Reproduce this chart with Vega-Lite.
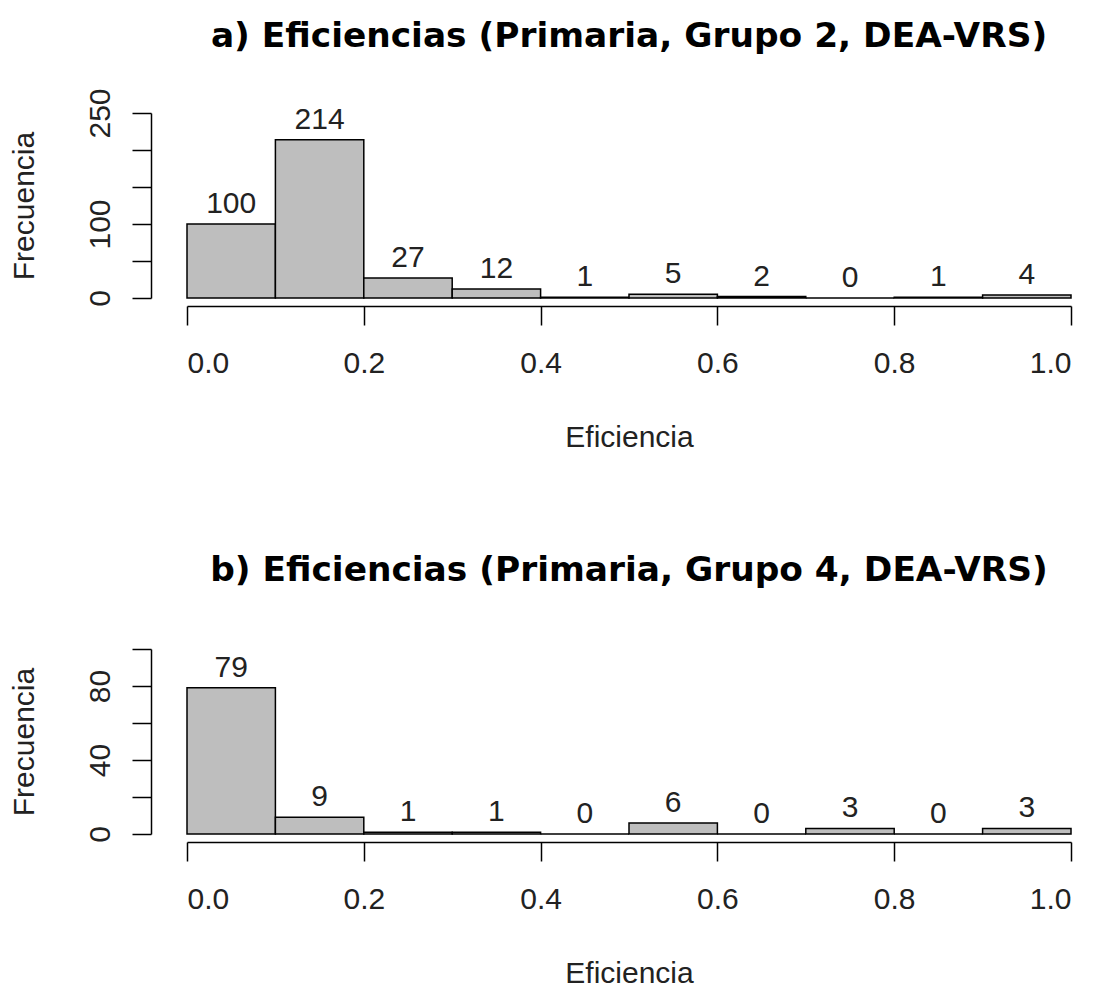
{
  "$schema": "https://vega.github.io/schema/vega-lite/v6.json",
  "background": "white",
  "padding": {"left": 9, "top": 18, "right": 20, "bottom": 0},
  "config": {
    "font": "Liberation Sans",
    "view": {"stroke": null},
    "axis": {
      "grid": false,
      "domainColor": "black",
      "tickColor": "black",
      "domainWidth": 1.5,
      "tickWidth": 1.5,
      "tickSize": 19,
      "labelFontSize": 30,
      "labelColor": "#222",
      "labelFont": "Liberation Sans",
      "labelOverlap": false,
      "titleFontSize": 30,
      "titleFontWeight": "normal",
      "titleColor": "#222",
      "titleFont": "Liberation Sans"
    },
    "title": {"fontSize": 34.4, "fontWeight": "bold", "font": "DejaVu Sans", "color": "black", "anchor": "middle"}
  },
  "datasets": {
    "g2": [
      {"bin_start": 0.0, "bin_end": 0.1, "count": 100},
      {"bin_start": 0.1, "bin_end": 0.2, "count": 214},
      {"bin_start": 0.2, "bin_end": 0.3, "count": 27},
      {"bin_start": 0.3, "bin_end": 0.4, "count": 12},
      {"bin_start": 0.4, "bin_end": 0.5, "count": 1},
      {"bin_start": 0.5, "bin_end": 0.6, "count": 5},
      {"bin_start": 0.6, "bin_end": 0.7, "count": 2},
      {"bin_start": 0.7, "bin_end": 0.8, "count": 0},
      {"bin_start": 0.8, "bin_end": 0.9, "count": 1},
      {"bin_start": 0.9, "bin_end": 1.0, "count": 4}
    ],
    "g4": [
      {"bin_start": 0.0, "bin_end": 0.1, "count": 79},
      {"bin_start": 0.1, "bin_end": 0.2, "count": 9},
      {"bin_start": 0.2, "bin_end": 0.3, "count": 1},
      {"bin_start": 0.3, "bin_end": 0.4, "count": 1},
      {"bin_start": 0.4, "bin_end": 0.5, "count": 0},
      {"bin_start": 0.5, "bin_end": 0.6, "count": 6},
      {"bin_start": 0.6, "bin_end": 0.7, "count": 0},
      {"bin_start": 0.7, "bin_end": 0.8, "count": 3},
      {"bin_start": 0.8, "bin_end": 0.9, "count": 0},
      {"bin_start": 0.9, "bin_end": 1.0, "count": 3}
    ]
  },
  "spacing": 100,
  "vconcat": [
    {
      "width": 884,
      "height": 185,
      "title": {"text": "a) Eficiencias (Primaria, Grupo 2, DEA-VRS)", "offset": 34},
      "data": {"name": "g2"},
      "layer": [
        {
          "mark": {"type": "bar", "fill": "#BEBEBE", "stroke": "black", "strokeWidth": 1.5},
          "encoding": {
            "x": {"field": "bin_start", "type": "quantitative",
              "scale": {"domain": [0, 1], "nice": false, "zero": false},
              "axis": {"values": [0, 0.2, 0.4, 0.6, 0.8, 1.0], "tickCount": 20, "format": ".1f", "offset": 8, "labelPadding": 23, "title": "Eficiencia", "titlePadding": 44}},
            "x2": {"field": "bin_end"},
            "y": {"field": "count", "type": "quantitative",
              "scale": {"domain": [0, 250], "nice": false},
              "axis": {"values": [0, 50, 100, 150, 200, 250], "tickCount": 20, "labelAngle": -90, "labelAlign": "center", "labelBaseline": "bottom",
                "labelExpr": "datum.value == 0 || datum.value == 100 || datum.value == 250 ? datum.label : ''",
                "offset": 36, "labelPadding": 17, "title": "Frecuencia", "titlePadding": 46}},
            "y2": {"datum": 0}
          }
        },
        {
          "mark": {"type": "text", "fontSize": 30, "color": "#222", "baseline": "alphabetic", "dy": -11},
          "encoding": {
            "x": {"field": "mid", "type": "quantitative"},
            "y": {"field": "count", "type": "quantitative"},
            "text": {"field": "count"}
          },
          "transform": [{"calculate": "(datum.bin_start + datum.bin_end) / 2", "as": "mid"}]
        }
      ]
    },
    {
      "width": 884,
      "height": 185,
      "title": {"text": "b) Eficiencias (Primaria, Grupo 4, DEA-VRS)", "offset": 60},
      "data": {"name": "g4"},
      "layer": [
        {
          "mark": {"type": "bar", "fill": "#BEBEBE", "stroke": "black", "strokeWidth": 1.5},
          "encoding": {
            "x": {"field": "bin_start", "type": "quantitative",
              "scale": {"domain": [0, 1], "nice": false, "zero": false},
              "axis": {"values": [0, 0.2, 0.4, 0.6, 0.8, 1.0], "tickCount": 20, "format": ".1f", "offset": 8, "labelPadding": 23, "title": "Eficiencia", "titlePadding": 44}},
            "x2": {"field": "bin_end"},
            "y": {"field": "count", "type": "quantitative",
              "scale": {"domain": [0, 100], "nice": false},
              "axis": {"values": [0, 20, 40, 60, 80, 100], "tickCount": 20, "labelAngle": -90, "labelAlign": "center", "labelBaseline": "bottom",
                "labelExpr": "datum.value == 0 || datum.value == 40 || datum.value == 80 ? datum.label : ''",
                "offset": 36, "labelPadding": 17, "title": "Frecuencia", "titlePadding": 46}},
            "y2": {"datum": 0}
          }
        },
        {
          "mark": {"type": "text", "fontSize": 30, "color": "#222", "baseline": "alphabetic", "dy": -11},
          "encoding": {
            "x": {"field": "mid", "type": "quantitative"},
            "y": {"field": "count", "type": "quantitative"},
            "text": {"field": "count"}
          },
          "transform": [{"calculate": "(datum.bin_start + datum.bin_end) / 2", "as": "mid"}]
        }
      ]
    }
  ]
}
